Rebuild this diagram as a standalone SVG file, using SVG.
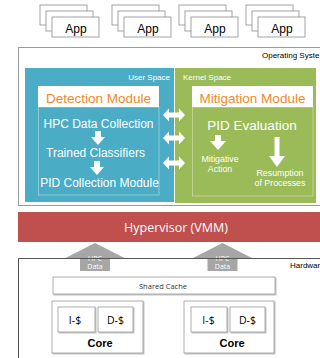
<svg xmlns="http://www.w3.org/2000/svg" width="320" height="358" viewBox="0 0 320 358">
<defs>
<style>
.app{fill:#fff;stroke:#8c8c8c;stroke-width:0.8}
.t{font-family:"Liberation Sans",Arial,sans-serif}
.c{font-family:"Open Sans","Liberation Sans",sans-serif}
.frame{fill:#fff;stroke:#9a9a9a;stroke-width:1}
.wb{fill:#fff;stroke:#9a9a9a;stroke-width:0.8}
.wa{fill:#fff}
.inner{fill:none;stroke:#fff;stroke-opacity:0.45;stroke-width:0.8}
.hpc{fill:#a6a6a6}
</style>
<filter id="sh" x="-10%" y="-10%" width="130%" height="140%">
<feDropShadow dx="1" dy="1" stdDeviation="0.6" flood-color="#000" flood-opacity="0.3"/>
</filter>
<g id="appstack">
<rect class="app" x="0" y="5" width="47" height="20"/>
<rect class="app" x="6" y="11" width="47" height="20"/>
<rect class="app" x="12" y="17" width="47" height="20"/>
</g>
</defs>
<rect width="320" height="358" fill="#fff"/>

<g id="app1"><use href="#appstack" x="40"/><text class="t" x="76" y="33" font-size="12" text-anchor="middle" fill="#000">App</text></g>
<g id="app2"><use href="#appstack" x="112"/><text class="t" x="148" y="33" font-size="12" text-anchor="middle" fill="#000">App</text></g>
<g id="app3"><use href="#appstack" x="179"/><text class="t" x="215" y="33" font-size="12" text-anchor="middle" fill="#000">App</text></g>
<g id="app4"><use href="#appstack" x="246"/><text class="t" x="282" y="33" font-size="12" text-anchor="middle" fill="#000">App</text></g>

<g id="os">
<rect class="frame" x="18.5" y="47.5" width="310" height="158"/>
<text class="t" x="262" y="58" font-size="8" fill="#000">Operating Syste</text>
</g>

<g id="userspace">
<rect x="25" y="68" width="149" height="134" fill="#4bacc6"/>
<text class="t" x="170" y="80" font-size="8" text-anchor="end" fill="#fff">User Space</text>
</g>
<g id="kernelspace">
<rect x="175" y="68" width="141" height="135" fill="#9bbb59"/>
<text class="t" x="183" y="80" font-size="8" fill="#fff">Kernel Space</text>
</g>
<line x1="174.5" y1="68" x2="174.5" y2="203" stroke="#fff" stroke-width="1"/>

<g id="detection">
<rect x="38" y="86" width="121" height="21" fill="#fff"/>
<text class="t" x="98.5" y="103" font-size="13.5" text-anchor="middle" fill="#f0892a">Detection Module</text>
<rect class="inner" x="38.5" y="107" width="120.5" height="88"/>
<text class="t" x="98.5" y="128" font-size="12" text-anchor="middle" fill="#fff">HPC Data Collection</text>
<path class="wa" d="M95,131 h6 v6 h4 l-7,8 l-7,-8 h4 z"/>
<text class="t" x="95.5" y="157" font-size="12" text-anchor="middle" fill="#fff">Trained Classifiers</text>
<path class="wa" d="M94,161 h6 v6 h4 l-7,8 l-7,-8 h4 z"/>
<text class="t" x="99.5" y="187" font-size="12" text-anchor="middle" fill="#fff">PID Collection Module</text>
</g>

<g id="mitigation">
<rect x="192" y="86" width="121" height="21" fill="#fff"/>
<text class="t" x="252.5" y="103" font-size="13.5" text-anchor="middle" fill="#f0892a">Mitigation Module</text>
<rect class="inner" x="192.5" y="107" width="120.5" height="89"/>
<text class="t" x="252" y="130" font-size="13.5" text-anchor="middle" fill="#fff">PID Evaluation</text>
<path class="wa" d="M215,135 h6 v6 h5 l-8,9 l-8,-9 h5 z"/>
<text class="t" x="220" y="162" font-size="8.8" text-anchor="middle" fill="#fff">Mitigative</text>
<text class="t" x="220" y="172" font-size="8.8" text-anchor="middle" fill="#fff">Action</text>
<path class="wa" d="M274.5,137 h5 v19 h5.5 l-8,11 l-8,-11 h5.5 z"/>
<text class="t" x="280" y="176" font-size="8.8" text-anchor="middle" fill="#fff">Resumption</text>
<text class="t" x="280" y="186" font-size="8.8" text-anchor="middle" fill="#fff">of Processes</text>
</g>

<g id="connectors">
<path class="wa" d="M163,115 l6,-6.5 v4 h10 v-4 l6,6.5 l-6,6.5 v-4 h-10 v4 z"/>
<path class="wa" d="M163,138 l6,-6.5 v4 h10 v-4 l6,6.5 l-6,6.5 v-4 h-10 v4 z"/>
<path class="wa" d="M163,163 l6,-6.5 v4 h10 v-4 l6,6.5 l-6,6.5 v-4 h-10 v4 z"/>
<path class="hpc" d="M95,243 l29.5,15 h-14.5 v13 h-30 v-13 h-14.5 z"/>
<path class="hpc" d="M222.5,243 l29.5,15 h-14.5 v13 h-30 v-13 h-14.5 z"/>
<text class="c" x="95" y="261" font-size="7" text-anchor="middle" fill="#fff">HPC</text>
<text class="c" x="95" y="269" font-size="7" text-anchor="middle" fill="#fff">Data</text>
<text class="c" x="222.5" y="261" font-size="7" text-anchor="middle" fill="#fff">HPC</text>
<text class="c" x="222.5" y="269" font-size="7" text-anchor="middle" fill="#fff">Data</text>
</g>

<g id="hypervisor">
<rect x="18" y="212" width="310" height="30" fill="#c0504d"/>
<text class="c" x="176" y="232" font-size="12.5" text-anchor="middle" fill="#fff">Hypervisor (VMM)</text>
</g>

<g id="hardware">
<path d="M18.5,370 V258.5 H330" fill="none" stroke="#555" stroke-width="1"/>
<text class="t" x="290" y="268" font-size="8" fill="#000">Hardwar</text>
</g>

<g id="sharedcache">
<rect class="wb" x="53" y="277" width="222" height="17" filter="url(#sh)"/>
<text class="c" x="163" y="288.5" font-size="7.5" text-anchor="middle" fill="#333">Shared Cache</text>
</g>

<g id="core1">
<rect class="wb" x="52" y="301" width="91" height="52" filter="url(#sh)"/>
<rect class="wb" x="58" y="307" width="37" height="25" filter="url(#sh)"/>
<text class="c" x="75" y="323.5" font-size="10.5" text-anchor="middle" fill="#000">I-$</text>
<rect class="wb" x="98" y="307" width="35" height="25" filter="url(#sh)"/>
<text class="c" x="115.5" y="323.5" font-size="10.5" text-anchor="middle" fill="#000">D-$</text>
<text class="t" x="100" y="347" font-size="11" font-weight="bold" text-anchor="middle" fill="#000">Core</text>
</g>

<g id="core2">
<rect class="wb" x="184" y="301" width="90" height="52" filter="url(#sh)"/>
<rect class="wb" x="191" y="307" width="36" height="25" filter="url(#sh)"/>
<text class="c" x="208.5" y="323.5" font-size="10.5" text-anchor="middle" fill="#000">I-$</text>
<rect class="wb" x="230" y="307" width="35" height="25" filter="url(#sh)"/>
<text class="c" x="247.5" y="323.5" font-size="10.5" text-anchor="middle" fill="#000">D-$</text>
<text class="t" x="232" y="347" font-size="11" font-weight="bold" text-anchor="middle" fill="#000">Core</text>
</g>
</svg>
